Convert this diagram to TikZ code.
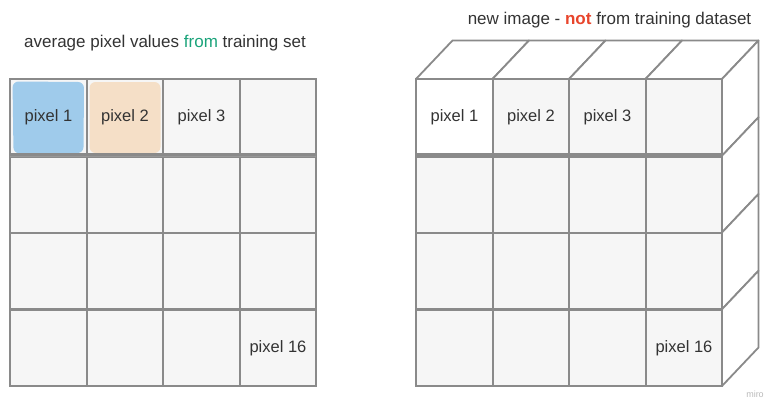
\documentclass[tikz,border=0pt]{standalone}
\usepackage{fontspec}
\setmainfont{Liberation Sans}
\definecolor{gridc}{HTML}{8A8A8A}
\definecolor{cellc}{HTML}{F6F6F6}
\definecolor{txt}{HTML}{333333}
\definecolor{bluep}{HTML}{9FCBEB}
\definecolor{orangep}{HTML}{F5DFC7}
\definecolor{greent}{HTML}{1AA37A}
\definecolor{redt}{HTML}{E8452C}
\begin{document}
\begin{tikzpicture}[x=1pt,y=-1pt,
  cellbox/.style={fill=cellc, minimum width=76.5pt, minimum height=76.75pt, inner sep=0pt, anchor=north west},
  cellline/.style={draw=gridc, line width=2pt},
  dblline/.style={draw=gridc, line width=1.7pt},
  facebox/.style={draw=gridc, line width=1.8pt, fill=white, line join=round},
  lbl/.style={text=txt, font=\fontsize{16.5}{18}\selectfont, inner sep=0pt}]
\useasboundingbox (0,0) rectangle (769,399);
% ---------- left grid ----------
\foreach \r in {0,1,2,3}{
  \foreach \c in {0,1,2,3}{
    \node[cellbox] (L\r\c) at ({10+76.5*\c},{79+76.75*\r}) {};
  }
}
\fill[bluep, rounded corners=6pt] (12.5,81.5) -- (84,82) -- (83.5,153) -- (13.5,153.5) -- cycle;
\fill[orangep, rounded corners=6pt] (89.5,82) rectangle (160.5,153);
\foreach \r in {0,1,2,3}{
  \foreach \c in {0,1,2,3}{
    \draw[cellline] (L\r\c.north west) rectangle (L\r\c.south east);
  }
}
\fill[cellc!60!white] (L10.north west) rectangle (L13.north east);
\draw[dblline] ([yshift=1.6pt]L10.north west) -- ([yshift=1.6pt]L13.north east);
\draw[dblline] ([yshift=-1.6pt]L10.north west) -- ([yshift=-1.6pt]L13.north east);
\node[lbl] (p1) at (L00) {pixel 1};
\node[lbl] (p2) at (L01) {pixel 2};
\node[lbl] (p3) at (L02) {pixel 3};
\node[lbl] (p16) at (L33) {pixel 16};
\node[lbl, font=\fontsize{17}{18}\selectfont] (tl) at (165,43) {average pixel values \textcolor{greent}{from} training set};
% ---------- right cube ----------
\foreach \c in {0,1,2,3}{
  \draw[facebox] ({416+76.5*\c},79) -- ++(36.5,-38.5) -- ++(76.5,0) -- ++(-36.5,38.5) -- cycle;
}
\foreach \r in {0,1,2,3}{
  \draw[facebox] (722,{79+76.75*\r}) -- ++(36.5,-38.5) -- ++(0,76.75) -- ++(-36.5,38.5) -- cycle;
}
\foreach \r in {0,1,2,3}{
  \foreach \c in {0,1,2,3}{
    \node[cellbox] (R\r\c) at ({416+76.5*\c},{79+76.75*\r}) {};
  }
}
\fill[white] (R00.north west) rectangle (R00.south east);
\foreach \r in {0,1,2,3}{
  \foreach \c in {0,1,2,3}{
    \draw[cellline] (R\r\c.north west) rectangle (R\r\c.south east);
  }
}
\draw[dblline] ([yshift=1.6pt]R10.north west) -- ([yshift=1.6pt]R13.north east);
\draw[dblline] ([yshift=-1.6pt]R10.north west) -- ([yshift=-1.6pt]R13.north east);
\node[lbl] (q1) at (R00) {pixel 1};
\node[lbl] (q2) at (R01) {pixel 2};
\node[lbl] (q3) at (R02) {pixel 3};
\node[lbl] (q16) at (R33) {pixel 16};
\node[lbl, font=\fontsize{17}{18}\selectfont] (tr) at (609.5,20) {new image - \textcolor{redt}{\bfseries not} from training dataset};
\node[text=gridc!60, font=\fontsize{9}{10}\selectfont, inner sep=0pt] (miro) at (755,394) {miro};
\end{tikzpicture}
\end{document}
